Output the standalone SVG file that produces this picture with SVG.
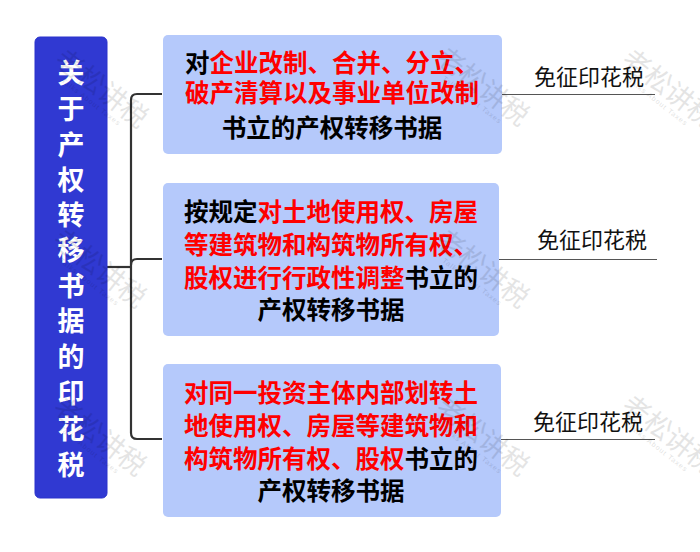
<svg xmlns="http://www.w3.org/2000/svg" width="700" height="552" viewBox="0 0 700 552">
<style>
text{font-family:"Noto Sans CJK SC","Noto Sans",sans-serif}
.t{font-size:24.5px;font-weight:700;fill:#000;text-anchor:middle}
.r{fill:#f00}
.h{font-size:27px;font-weight:700;fill:#fff;text-anchor:middle}
.b{fill:#b5c9fb}
.c{fill:none;stroke:#333;stroke-width:2.2}
.l{fill:none;stroke:#555;stroke-width:1}
.s{font-size:22px;fill:#111;text-anchor:middle}
.w{font-size:27px;fill:#000;opacity:.1;text-anchor:middle}
.w2{font-size:7px;fill:#000;opacity:.12;text-anchor:middle;letter-spacing:1px;font-family:"Liberation Sans",sans-serif}
</style>
<rect width="700" height="552" fill="#fff"/>
<g id="connectors">
<path class="c" d="M107 267H131"/>
<path class="c" d="M162 94H137Q131 94 131 100V433Q131 439 137 439H162"/>
<path class="c" d="M131 265Q131 259 137 259H162"/>
<path class="l" d="M502 94.500H655"/>
<path class="l" d="M499 259.500H657"/>
<path class="l" d="M501 439.500H655"/>
</g>
<g id="root">
<rect x="35" y="37" width="72" height="461" rx="5" fill="#3039d2" stroke="#2a33cc"/>
<text class="h" x="71" y="83">关</text>
<text class="h" x="71" y="119">于</text>
<text class="h" x="71" y="155">产</text>
<text class="h" x="71" y="190">权</text>
<text class="h" x="71" y="225">转</text>
<text class="h" x="71" y="260">移</text>
<text class="h" x="71" y="296">书</text>
<text class="h" x="71" y="331">据</text>
<text class="h" x="71" y="367">的</text>
<text class="h" x="71" y="403">印</text>
<text class="h" x="71" y="439">花</text>
<text class="h" x="71" y="475">税</text>
</g>
<g id="node1">
<rect class="b" x="163" y="35" width="339" height="119" rx="5"/>
<text class="t" x="332" y="72">对<tspan class="r">企业改制、合并、分立、</tspan></text>
<text class="t" x="332" y="102"><tspan class="r">破产清算以及事业单位改制</tspan></text>
<text class="t" x="332" y="137">书立的产权转移书据</text>
</g>
<g id="node2">
<rect class="b" x="163" y="183" width="336" height="153" rx="5"/>
<text class="t" x="331" y="221">按规定<tspan class="r">对土地使用权、房屋</tspan></text>
<text class="t" x="331" y="254"><tspan class="r">等建筑物和构筑物所有权、</tspan></text>
<text class="t" x="331" y="287"><tspan class="r">股权进行行政性调整</tspan>书立的</text>
<text class="t" x="331" y="319">产权转移书据</text>
</g>
<g id="node3">
<rect class="b" x="163" y="364" width="338" height="153" rx="5"/>
<text class="t" x="331" y="402"><tspan class="r">对同一投资主体内部划转土</tspan></text>
<text class="t" x="331" y="435"><tspan class="r">地使用权、房屋等建筑物和</tspan></text>
<text class="t" x="331" y="468"><tspan class="r">构筑物所有权、股权</tspan>书立的</text>
<text class="t" x="331" y="500">产权转移书据</text>
</g>
<g id="leaf1"><text class="s" x="589" y="85">免征印花税</text></g>
<g id="leaf2"><text class="s" x="592" y="248">免征印花税</text></g>
<g id="leaf3"><text class="s" x="588" y="430">免征印花税</text></g>
<g id="watermarks">
<g transform="translate(99 92) rotate(38)"><text class="w" y="5">老松讲税</text><text class="w2" y="15">Talks About Taxes</text></g>
<g transform="translate(97 272) rotate(38)"><text class="w" y="5">老松讲税</text><text class="w2" y="15">Talks About Taxes</text></g>
<g transform="translate(97 440) rotate(38)"><text class="w" y="5">老松讲税</text><text class="w2" y="15">Talks About Taxes</text></g>
<g transform="translate(480 90) rotate(38)"><text class="w" y="5">老松讲税</text><text class="w2" y="15">Talks About Taxes</text></g>
<g transform="translate(480 272) rotate(38)"><text class="w" y="5">老松讲税</text><text class="w2" y="15">Talks About Taxes</text></g>
<g transform="translate(480 440) rotate(38)"><text class="w" y="5">老松讲税</text><text class="w2" y="15">Talks About Taxes</text></g>
<g transform="translate(666 92) rotate(38)"><text class="w" y="5">老松讲税</text><text class="w2" y="15">Talks About Taxes</text></g>
<g transform="translate(666 438) rotate(38)"><text class="w" y="5">老松讲税</text><text class="w2" y="15">Talks About Taxes</text></g>
</g>
</svg>
